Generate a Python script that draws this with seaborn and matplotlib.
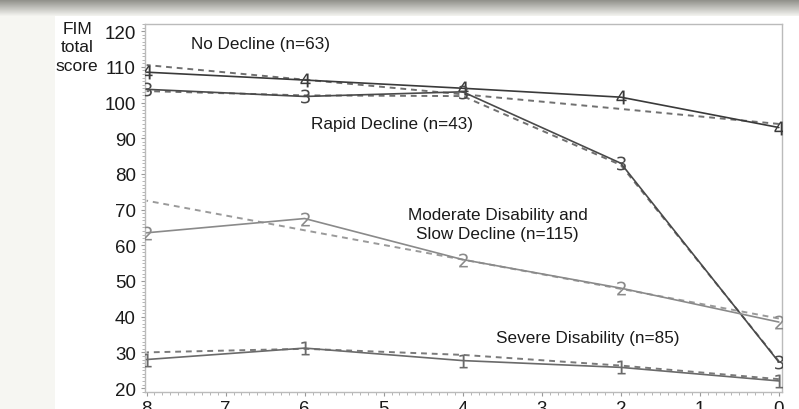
import matplotlib
matplotlib.use("Agg")
import matplotlib.pyplot as plt
import seaborn as sns
import pandas as pd
import numpy as np
from matplotlib.ticker import MultipleLocator

sns.set_theme(style="white")
plt.rcParams['font.family'] = ['Liberation Sans', 'DejaVu Sans']

years = [8, 6, 4, 2, 0]
obs_no_decline = [108.5, 106.3, 104.0, 101.5, 93.0]
obs_rapid = [103.7, 101.7, 103.0, 83.0, 27.3]
obs_moderate = [63.5, 67.5, 56.0, 48.0, 38.5]
obs_severe = [28.0, 31.2, 27.7, 25.8, 22.0]

fit_no_decline = [110.5, 106.4, 102.3, 98.2, 94.0]
fit_rapid = [103.2, 102.0, 101.8, 82.5, 27.5]
fit_moderate = [72.5, 64.2, 56.0, 47.8, 39.5]
fit_severe = [30.0, 31.0, 29.3, 26.3, 22.5]

groups = ["4", "3", "2", "1"]
group_labels = ["No Decline (n=63)", "Rapid Decline (n=43)",
                "Moderate Disability and\nSlow Decline (n=115)",
                "Severe Disability (n=85)"]
yticks = [20, 30, 40, 50, 60, 70, 80, 90, 100, 110, 120]
xticks = [8, 7, 6, 5, 4, 3, 2, 1, 0]

obs = {"4": obs_no_decline, "3": obs_rapid, "2": obs_moderate, "1": obs_severe}
fit = {"4": fit_no_decline, "3": fit_rapid, "2": fit_moderate, "1": fit_severe}
line_col = {"4": "#3a3a3a", "3": "#4a4a4a", "2": "#8a8a8a", "1": "#6a6a6a"}
fit_col = {"4": "#707070", "3": "#707070", "2": "#9a9a9a", "1": "#7a7a7a"}

rows = []
for g in groups:
    for yr, o, f in zip(years, obs[g], fit[g]):
        rows.append({"year": yr, "group": g, "observed": o, "fitted": f})
df = pd.DataFrame(rows)

fig = plt.figure(figsize=(7.99, 4.10), dpi=100)
fig.patch.set_facecolor("#f6f6f2")
# white panel of the screenshot
bg = fig.add_axes([55/799, 0, 1 - 55/799, 1 - 17/410], zorder=-5)
bg.set_facecolor("white")
bg.set_xticks([]); bg.set_yticks([])
for s in bg.spines.values():
    s.set_visible(False)
# top gray bar gradient
grad = np.linspace(0, 1, 50).reshape(-1, 1)
bar_ax = fig.add_axes([0, 1 - 17/410, 1, 17/410], zorder=-5)
bar_ax.imshow(grad, aspect="auto", cmap=matplotlib.colors.LinearSegmentedColormap.from_list(
    "g", ["#8a8a84", "#f4f4f0"]), extent=[0, 1, 0, 1])
bar_ax.axis("off")

ax = fig.add_axes([145/799, 1 - 393/410, (782 - 145)/799, (393 - 25)/410], zorder=2)
ax.set_facecolor("white")

for g in groups:
    sub = df[df["group"] == g]
    sns.lineplot(data=sub, x="year", y="fitted", ax=ax, color=fit_col[g],
                 linestyle=(0, (3, 2.5)), linewidth=1.4, legend=False, zorder=2)
    sns.lineplot(data=sub, x="year", y="observed", ax=ax, color=line_col[g],
                 linewidth=1.2, marker=f"${g}$", markersize=10,
                 markeredgewidth=0, markerfacecolor=line_col[g],
                 markeredgecolor=line_col[g], legend=False, zorder=3)

ax.set_xlim(8.02, -0.04)
ax.set_ylim(18.9, 122)
ax.set_xticks(xticks)
ax.set_yticks(yticks)
ax.xaxis.set_minor_locator(MultipleLocator(0.1))
ax.yaxis.set_minor_locator(MultipleLocator(1))
ax.tick_params(axis="both", which="major", labelsize=13.5, labelcolor="#1a1a1a",
               color="#999999", length=3, width=0.8, left=True, bottom=True)
ax.tick_params(axis="both", which="minor", color="#aaaaaa", length=2.5, width=0.6,
               left=True, bottom=True)
ax.tick_params(axis="y", pad=3.5)
ax.tick_params(axis="x", pad=3)
ax.set_xlabel("")
ax.set_ylabel("")
for side in ["top", "right", "left", "bottom"]:
    ax.spines[side].set_color("#bbbbbb")
    ax.spines[side].set_linewidth(1.0)

ax.text(7.44, 116.4, group_labels[0], fontsize=12.3, color="#1a1a1a", va="center", ha="left")
ax.text(5.92, 94.2, group_labels[1], fontsize=12.3, color="#1a1a1a", va="center", ha="left")
ax.text(3.56, 66.0, group_labels[2], fontsize=12.3, color="#1a1a1a", va="center", ha="center",
        linespacing=1.35)
ax.text(3.58, 34.3, group_labels[3], fontsize=12.3, color="#1a1a1a", va="center", ha="left")

fig.text(77/799, 1 - 48/410, "FIM\ntotal\nscore", fontsize=12.5, color="#1a1a1a",
         ha="center", va="center", linespacing=1.3)

fig.savefig("out.png", dpi=100, facecolor=fig.get_facecolor())
